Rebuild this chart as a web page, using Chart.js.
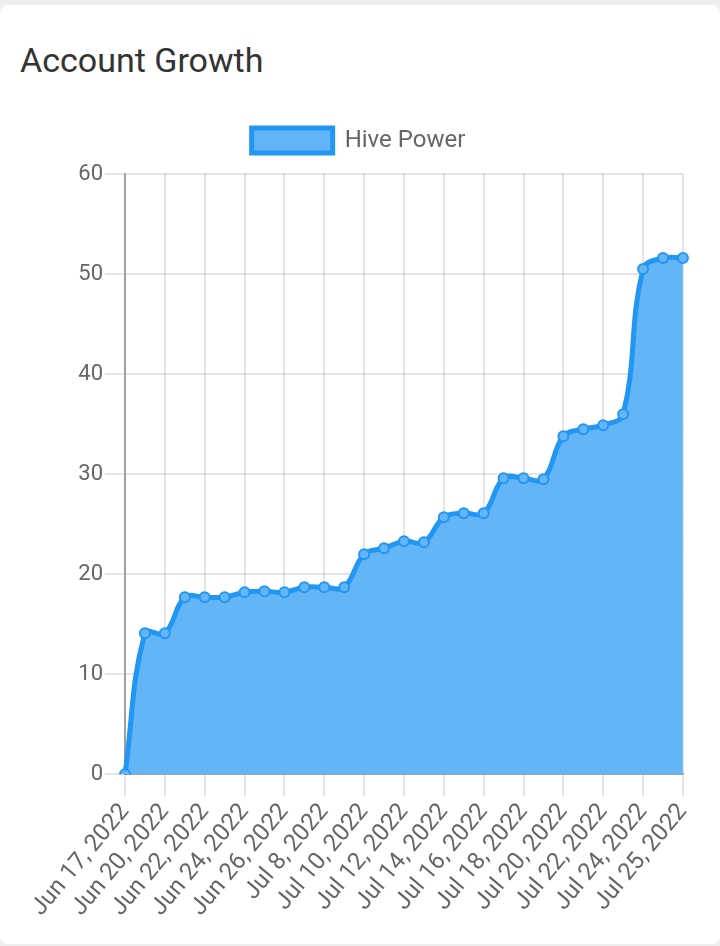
<!DOCTYPE html>
<html>
<head>
<meta charset="utf-8">
<script src="https://cdn.jsdelivr.net/npm/chart.js@4/dist/chart.umd.min.js"></script>
<style>
  body { margin: 0; background: #eeeeee; font-family: Roboto, sans-serif; }
  .card { position: absolute; left: 0; top: 5px; width: 720px; height: 939px; background: #fff; border-radius: 8px; }
  h2 { position: absolute; left: 20px; top: 35px; margin: 0; font-size: 34px; line-height: 40px; font-weight: 400; color: #333; }
  .wrap { position: absolute; left: 10px; top: 103px; width: 697px; height: 816px; }
</style>
</head>
<body>
<div class="card">
  <h2>Account Growth</h2>
  <div class="wrap"><canvas id="growth"></canvas></div>
</div>
<script>
var dates = ["Jun 17, 2022", "Jun 19, 2022", "Jun 20, 2022", "Jun 21, 2022", "Jun 22, 2022",
  "Jun 23, 2022", "Jun 24, 2022", "Jun 25, 2022", "Jun 26, 2022", "Jul 7, 2022",
  "Jul 8, 2022", "Jul 9, 2022", "Jul 10, 2022", "Jul 11, 2022", "Jul 12, 2022",
  "Jul 13, 2022", "Jul 14, 2022", "Jul 15, 2022", "Jul 16, 2022", "Jul 17, 2022",
  "Jul 18, 2022", "Jul 19, 2022", "Jul 20, 2022", "Jul 21, 2022", "Jul 22, 2022",
  "Jul 23, 2022", "Jul 24, 2022", "Jul 24, 2022", "Jul 25, 2022"];
var hivePower = [0, 14.1, 14.1, 17.7, 17.7, 17.7, 18.2, 18.3, 18.2, 18.7,
  18.7, 18.7, 22.0, 22.6, 23.3, 23.2, 25.7, 26.1, 26.1, 29.6,
  29.6, 29.5, 33.8, 34.5, 34.9, 36.0, 50.5, 51.6, 51.6];
var seriesName = "Hive Power";

var gridColor = "rgba(0,0,0,0.1)";
var axisColor = "rgba(0,0,0,0.3)";

// a bit more room between legend and plot
var legendGap = {
  id: "legendGap",
  beforeInit: function(chart) {
    var fit = chart.legend.fit;
    chart.legend.fit = function() {
      fit.call(this);
      this.height += 11;
    };
  }
};

new Chart("growth", {
  type: "line",
  data: {
    labels: dates,
    datasets: [{
      label: seriesName,
      data: hivePower,
      borderColor: "#2196F3",
      backgroundColor: "#64B5F6",
      borderWidth: 5,
      fill: "origin",
      tension: 0.4,
      pointRadius: 5,
      pointBorderWidth: 2,
      pointBackgroundColor: "#64B5F6",
      pointBorderColor: "#2196F3"
    }]
  },
  plugins: [legendGap],
  options: {
    responsive: true,
    maintainAspectRatio: false,
    animation: false,
    plugins: {
      legend: {
        labels: {
          boxWidth: 81,
          boxHeight: 25,
          padding: 20,
          color: "#666",
          font: { family: "Roboto", size: 24 }
        }
      },
      tooltip: { enabled: false }
    },
    scales: {
      x: {
        grid: { color: gridColor, lineWidth: 2, tickLength: 22 },
        border: { color: axisColor, width: 2 },
        ticks: {
          autoSkip: false,
          minRotation: 50,
          maxRotation: 50,
          padding: 2,
          color: "#666",
          font: { family: "Roboto", size: 24 },
          callback: function(value, index) {
            // show every second date, hiding the grid line with it
            return index % 2 === 0 ? this.getLabelForValue(value) : null;
          }
        }
      },
      y: {
        min: 0,
        max: 60,
        afterFit: function(axis) { axis.width = 115; },
        grid: { color: gridColor, lineWidth: 2, tickLength: 20 },
        border: { color: axisColor, width: 2 },
        ticks: {
          stepSize: 10,
          padding: 2,
          color: "#666",
          font: { family: "Roboto", size: 22 }
        }
      }
    }
  }
});
</script>
</body>
</html>
